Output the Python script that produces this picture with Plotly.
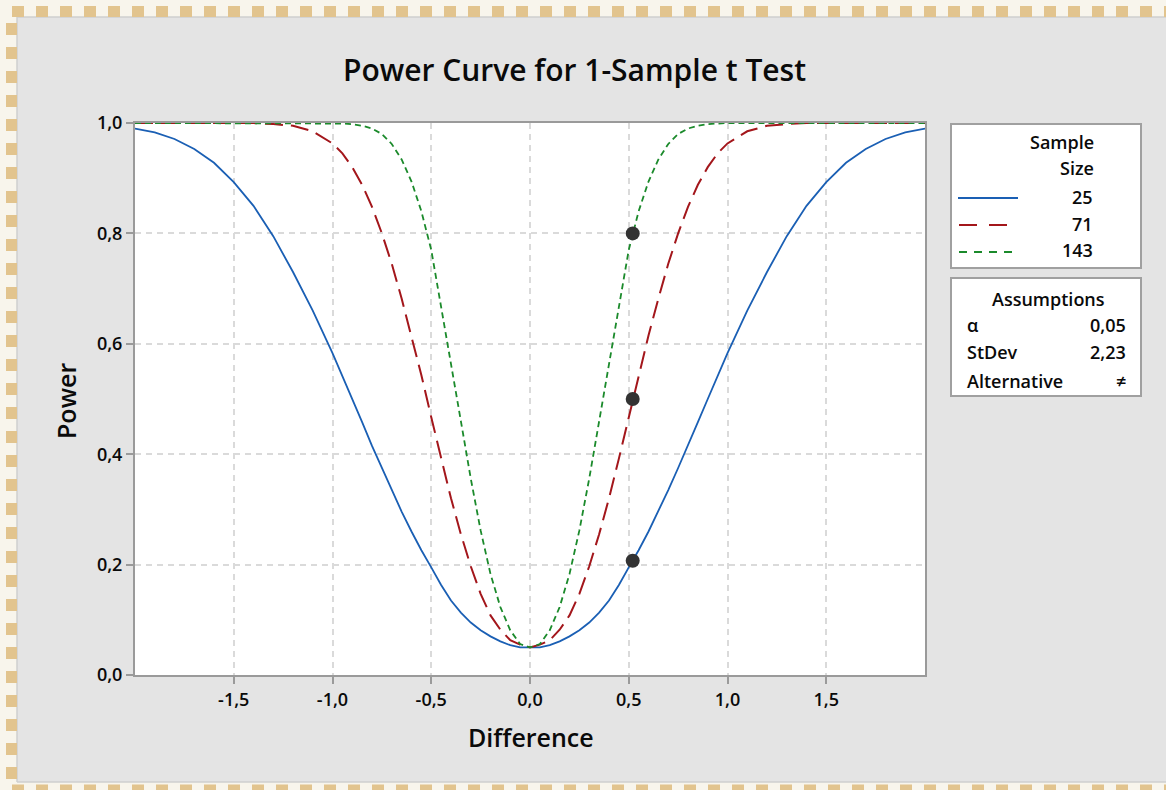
import plotly.graph_objects as go

# ---------------- data ----------------
difference = [-2.0, -1.9, -1.8, -1.7, -1.6, -1.5, -1.4, -1.3, -1.2, -1.1,
              -1.0, -0.95, -0.9, -0.85, -0.8, -0.75, -0.7, -0.65, -0.6, -0.55,
              -0.5, -0.45, -0.4, -0.35, -0.3, -0.25, -0.2, -0.15, -0.1, -0.05,
              0.0,
              0.05, 0.1, 0.15, 0.2, 0.25, 0.3, 0.35, 0.4, 0.45, 0.5,
              0.55, 0.6, 0.65, 0.7, 0.75, 0.8, 0.85, 0.9, 0.95, 1.0,
              1.1, 1.2, 1.3, 1.4, 1.5, 1.6, 1.7, 1.8, 1.9, 2.0]

power_25 = [0.990, 0.983, 0.971, 0.953, 0.928, 0.893, 0.850, 0.795, 0.730, 0.660,
            0.583, 0.542, 0.500, 0.458, 0.415, 0.375, 0.335, 0.296, 0.260, 0.226,
            0.195, 0.163, 0.135, 0.113, 0.095, 0.081, 0.070, 0.061, 0.054, 0.050,
            0.050,
            0.050, 0.054, 0.061, 0.070, 0.081, 0.095, 0.113, 0.135, 0.163, 0.195,
            0.226, 0.260, 0.296, 0.335, 0.375, 0.415, 0.458, 0.500, 0.542, 0.583,
            0.660, 0.730, 0.795, 0.850, 0.893, 0.928, 0.953, 0.971, 0.983, 0.990]

power_71 = [1.000, 1.000, 1.000, 1.000, 1.000, 1.000, 1.000, 0.998, 0.995, 0.985,
            0.963, 0.945, 0.920, 0.888, 0.848, 0.800, 0.745, 0.682, 0.615, 0.543,
            0.467, 0.392, 0.320, 0.255, 0.197, 0.147, 0.108, 0.082, 0.063, 0.055,
            0.050,
            0.055, 0.063, 0.082, 0.108, 0.147, 0.197, 0.255, 0.320, 0.392, 0.467,
            0.543, 0.615, 0.682, 0.745, 0.800, 0.848, 0.888, 0.920, 0.945, 0.963,
            0.985, 0.995, 0.998, 1.000, 1.000, 1.000, 1.000, 1.000, 1.000, 1.000]

power_143 = [1.000, 1.000, 1.000, 1.000, 1.000, 1.000, 1.000, 1.000, 1.000, 1.000,
             1.000, 0.999, 0.998, 0.995, 0.990, 0.980, 0.962, 0.934, 0.894, 0.840,
             0.770, 0.669, 0.567, 0.460, 0.356, 0.262, 0.183, 0.123, 0.081, 0.056,
             0.050,
             0.056, 0.081, 0.123, 0.183, 0.262, 0.356, 0.460, 0.567, 0.669, 0.770,
             0.840, 0.894, 0.934, 0.962, 0.980, 0.990, 0.995, 0.998, 0.999, 1.000,
             1.000, 1.000, 1.000, 1.000, 1.000, 1.000, 1.000, 1.000, 1.000, 1.000]

sample_sizes = ["25", "71", "143"]
target_diff = [0.52, 0.52, 0.52]
target_power = [0.80, 0.50, 0.207]

x_ticks = [-1.5, -1.0, -0.5, 0.0, 0.5, 1.0, 1.5]
x_tick_labels = ["-1,5", "-1,0", "-0,5", "0,0", "0,5", "1,0", "1,5"]
y_ticks = [0.0, 0.2, 0.4, 0.6, 0.8, 1.0]
y_tick_labels = ["0,0", "0,2", "0,4", "0,6", "0,8", "1,0"]

assumption_labels = ["α", "StDev", "Alternative"]
assumption_values = ["0,05", "2,23", "≠"]

# ---------------- styling ----------------
W, H = 1166, 790
L, R, T, B = 135, 925, 123, 675
FONT = "Open Sans"
TXT = "#0a0a0a"
WEIGHT = 600
colors = ["#1a5fb4", "#a3161b", "#1b8a2b"]
dashes = ["solid", "18px,8px", "6px,4px"]
widths = [1.8, 2.0, 1.8]


def px(x):
    return (x - L) / (R - L)


def py(y):
    return (B - y) / (B - T)


fig = go.Figure()
for vals, name, c, d, w in zip([power_25, power_71, power_143], sample_sizes,
                               colors, dashes, widths):
    fig.add_trace(go.Scatter(x=difference, y=vals, mode="lines", name=name,
                             line=dict(color=c, dash=d, width=w),
                             showlegend=False, hoverinfo="skip"))

fig.add_trace(go.Scatter(x=target_diff, y=target_power, mode="markers",
                         marker=dict(color="#333333", size=14),
                         showlegend=False, hoverinfo="skip", cliponaxis=False))

shapes = []
# decorative border strips
cream = "#f8f5ec"
shapes += [
    dict(type="rect", xref="paper", yref="paper", x0=px(0), x1=px(W), y0=py(0), y1=py(17),
         fillcolor=cream, line=dict(width=0), layer="above"),
    dict(type="rect", xref="paper", yref="paper", x0=px(0), x1=px(17), y0=py(0), y1=py(H),
         fillcolor=cream, line=dict(width=0), layer="above"),
    dict(type="rect", xref="paper", yref="paper", x0=px(0), x1=px(W), y0=py(782), y1=py(H),
         fillcolor=cream, line=dict(width=0), layer="above"),
    dict(type="line", xref="paper", yref="paper", x0=px(17), x1=px(W), y0=py(17), y1=py(17),
         line=dict(color="#cfcfcf", width=1.5), layer="above"),
    dict(type="line", xref="paper", yref="paper", x0=px(17), x1=px(17), y0=py(17), y1=py(782),
         line=dict(color="#cfcfcf", width=1.5), layer="above"),
    dict(type="line", xref="paper", yref="paper", x0=px(17), x1=px(W), y0=py(782), y1=py(782),
         line=dict(color="#cfcfcf", width=1.5), layer="above"),
    dict(type="line", xref="paper", yref="paper", x0=px(12), x1=px(W), y0=py(11.5), y1=py(11.5),
         line=dict(color="#e2c48e", width=11, dash="12px,12px"), layer="above"),
    dict(type="line", xref="paper", yref="paper", x0=px(11.5), x1=px(11.5), y0=py(23), y1=py(782),
         line=dict(color="#e2c48e", width=11, dash="12px,12px"), layer="above"),
    dict(type="line", xref="paper", yref="paper", x0=px(12), x1=px(W), y0=py(788), y1=py(788),
         line=dict(color="#e2c48e", width=7, dash="12px,12px"), layer="above"),
]
# legend boxes
for y0, y1 in [(124, 268), (278, 396)]:
    shapes.append(dict(type="rect", xref="paper", yref="paper",
                       x0=px(951), x1=px(1141), y0=py(y0), y1=py(y1),
                       fillcolor="white", line=dict(color="#a0a0a0", width=2), layer="above"))
# legend line samples
for (x0, x1, yy), c, d, w in zip([(958, 1018, 198), (959, 1016, 225), (959, 1016, 252)],
                                 colors, ["solid", "18px,12px", "8px,7px"], widths):
    shapes.append(dict(type="line", xref="paper", yref="paper",
                       x0=px(x0), x1=px(x1), y0=py(yy), y1=py(yy),
                       line=dict(color=c, width=w, dash=d), layer="above"))

ann = []


def text(s, x, y, size=18, xanchor="center", weight=WEIGHT, **kw):
    ann.append(dict(text=s, x=px(x), y=py(y), xref="paper", yref="paper",
                    xanchor=xanchor, yanchor="middle", showarrow=False,
                    font=dict(family=FONT, size=size, color=TXT, weight=weight), **kw))


text("Power Curve for 1-Sample t Test", 574, 69, size=30)
text("Difference", 531, 737, size=25)
text("Power", 66, 401, size=25, textangle=-90)
text("Sample", 1096, 142, xanchor="right")
text("Size", 1096, 168, xanchor="right")
for s, yy in zip(sample_sizes, [197, 224, 250]):
    text(s, 1095, yy, xanchor="right")
text("Assumptions", 1048, 299)
for lab, val, yy in zip(assumption_labels, assumption_values, [325, 352, 381]):
    text(lab, 965, yy, xanchor="left")
    text(val, 1128, yy, xanchor="right")

axis_common = dict(showline=True, linecolor="#9a9a9a", linewidth=2, mirror=True,
                   ticks="outside", ticklen=7, tickwidth=2, tickcolor="#9a9a9a",
                   showgrid=True, gridcolor="#dadada", gridwidth=1.5, griddash="6px,5px",
                   zeroline=False,
                   tickfont=dict(family=FONT, size=18, color=TXT, weight=WEIGHT))

fig.update_layout(
    width=W, height=H,
    margin=dict(l=L, r=W - R, t=T, b=H - B),
    paper_bgcolor="#e4e4e4", plot_bgcolor="white",
    separators=",.",
    xaxis=dict(range=[-2.0, 2.0], tickvals=x_ticks, ticktext=x_tick_labels, **axis_common),
    yaxis=dict(range=[0.0, 1.0], tickvals=y_ticks, ticktext=y_tick_labels, **axis_common),
    shapes=shapes, annotations=ann,
    font=dict(family=FONT, color=TXT),
)

fig.write_html("out.html", config={"displayModeBar": False},
               post_script="document.body.style.margin='0';document.body.style.padding='0';")
